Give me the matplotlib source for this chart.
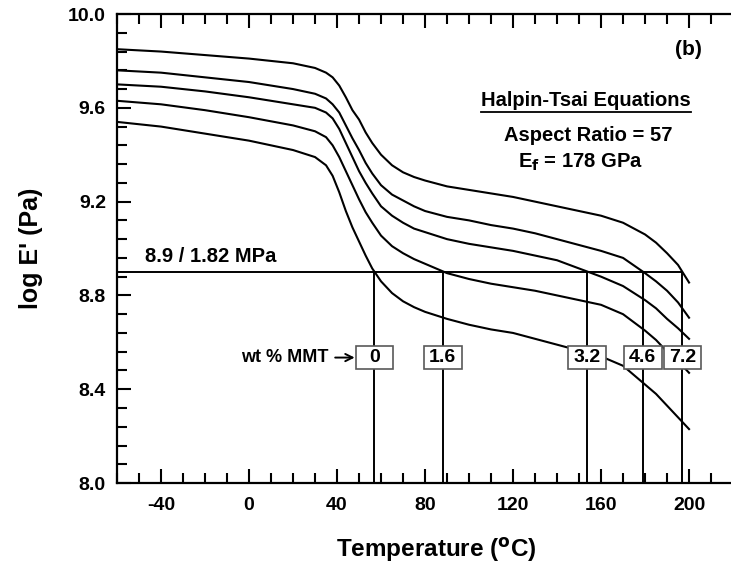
import matplotlib
matplotlib.use("Agg")
import matplotlib.pyplot as plt
from matplotlib.ticker import MultipleLocator, FormatStrFormatter
from matplotlib.patches import Rectangle
from matplotlib.lines import Line2D

plt.rcParams['font.family'] = ['Liberation Sans', 'DejaVu Sans']
plt.rcParams['font.weight'] = 'bold'
plt.rcParams['axes.labelweight'] = 'bold'
plt.rcParams['axes.unicode_minus'] = False
plt.rcParams['mathtext.default'] = 'regular'

# temperature grid (deg C)
temps = [-60, -40, -20, 0, 20, 30, 35, 38, 41, 44, 47, 50, 53, 56, 60, 65, 70, 75,
         80, 90, 100, 110, 120, 130, 140, 150, 160, 170, 180, 185, 190, 195, 200]

# log E' (Pa) for each clay loading
e_0 = [9.54, 9.52, 9.49, 9.46, 9.42, 9.39, 9.355, 9.31, 9.24, 9.16, 9.09, 9.03, 8.97,
       8.915, 8.86, 8.81, 8.775, 8.75, 8.73, 8.70, 8.675, 8.655, 8.64, 8.615, 8.59,
       8.565, 8.54, 8.50, 8.42, 8.38, 8.33, 8.28, 8.23]
e_16 = [9.63, 9.615, 9.59, 9.56, 9.525, 9.50, 9.475, 9.44, 9.39, 9.33, 9.27, 9.21, 9.155,
        9.11, 9.055, 9.01, 8.98, 8.955, 8.935, 8.895, 8.87, 8.85, 8.835, 8.82, 8.80,
        8.78, 8.76, 8.72, 8.65, 8.61, 8.56, 8.52, 8.47]
e_32 = [9.70, 9.69, 9.67, 9.645, 9.615, 9.60, 9.58, 9.555, 9.51, 9.45, 9.39, 9.33, 9.28,
        9.235, 9.18, 9.14, 9.11, 9.085, 9.07, 9.04, 9.02, 9.005, 8.99, 8.97, 8.95,
        8.915, 8.88, 8.84, 8.78, 8.745, 8.70, 8.66, 8.615]
e_46 = [9.76, 9.75, 9.73, 9.71, 9.68, 9.66, 9.64, 9.615, 9.58, 9.525, 9.47, 9.42, 9.365,
        9.32, 9.27, 9.23, 9.205, 9.18, 9.16, 9.135, 9.12, 9.10, 9.085, 9.065, 9.04,
        9.015, 8.99, 8.96, 8.895, 8.86, 8.82, 8.77, 8.705]
e_72 = [9.85, 9.84, 9.825, 9.81, 9.79, 9.77, 9.75, 9.73, 9.695, 9.645, 9.59, 9.55, 9.495,
        9.45, 9.40, 9.355, 9.325, 9.305, 9.29, 9.265, 9.25, 9.235, 9.22, 9.20, 9.18,
        9.16, 9.14, 9.11, 9.06, 9.025, 8.98, 8.93, 8.855]

# HDT criterion and where each curve crosses it
hdt_level = 8.9
wt_labels = ['0', '1.6', '3.2', '4.6', '7.2']
hdt_temps = [57, 88, 153.5, 179, 197]

fig = plt.figure(figsize=(7.31, 5.68), dpi=100)
ax = fig.add_axes([0.1601, 0.1496, 0.8728, 0.8257])

for vals in [e_0, e_16, e_32, e_46, e_72]:
    ax.plot(temps, vals, color='black', lw=1.5, zorder=3)

# horizontal 8.9 line and vertical drops
ax.plot([-60, max(hdt_temps)], [hdt_level, hdt_level], color='black', lw=1.4, zorder=2)
for t in hdt_temps:
    ax.plot([t, t], [8.0, hdt_level], color='black', lw=1.4, zorder=2)

# boxed wt% labels
box_y = 8.535
for t, lab in zip(hdt_temps, wt_labels):
    ax.add_patch(Rectangle((t - 8.6, box_y - 0.048), 17.2, 0.096, fc='white',
                           ec='0.35', lw=1.2, zorder=5))
    ax.text(t, box_y, lab, ha='center', va='center', fontsize=14, zorder=6)

ax.annotate('wt % MMT', xy=(48, box_y), xytext=(36, box_y), ha='right', va='center',
            fontsize=13, arrowprops=dict(arrowstyle='->', lw=1.4, color='black',
                                         shrinkA=3, shrinkB=0))

ax.text(-47.3, 8.965, '8.9 / 1.82 MPa', ha='left', va='center', fontsize=14.5)
ax.text(199.5, 9.85, '(b)', ha='center', va='center', fontsize=15)
title = ax.text(153.2, 9.63, 'Halpin-Tsai Equations', ha='center', va='center', fontsize=14.5)
ax.text(154, 9.483, 'Aspect Ratio = 57', ha='center', va='center', fontsize=14.5)
ax.text(150.5, 9.368, 'E$_\\mathbf{f}$ = 178 GPa', ha='center', va='center', fontsize=14.5)

ax.set_xlim(-60, 230)
ax.set_ylim(8.0, 10.0)
ax.xaxis.set_major_locator(MultipleLocator(40))
ax.xaxis.set_minor_locator(MultipleLocator(10))
ax.yaxis.set_major_locator(MultipleLocator(0.4))
ax.yaxis.set_minor_locator(MultipleLocator(0.08))
ax.yaxis.set_major_formatter(FormatStrFormatter('%.1f'))
ax.tick_params(which='both', direction='in', top=True, right=True, width=1.5)
ax.tick_params(which='major', length=10, labelsize=14)
ax.tick_params(which='minor', length=7)
ax.tick_params(axis='x', pad=10)
ax.tick_params(axis='y', pad=8)
for sp in ax.spines.values():
    sp.set_linewidth(1.6)

ax.set_xlabel('Temperature ($^\\mathbf{o}$C)', fontsize=17.5, labelpad=16)
ax.set_ylabel("log E' (Pa)", fontsize=18, labelpad=18)

# underline the equation title
fig.canvas.draw()
bb = title.get_window_extent(fig.canvas.get_renderer())
fw, fh = fig.bbox.width, fig.bbox.height
yline = (bb.y0 - 2) / fh
fig.add_artist(Line2D([bb.x0 / fw, bb.x1 / fw], [yline, yline], color='black', lw=1.3))

fig.savefig('out.png', dpi=100)
